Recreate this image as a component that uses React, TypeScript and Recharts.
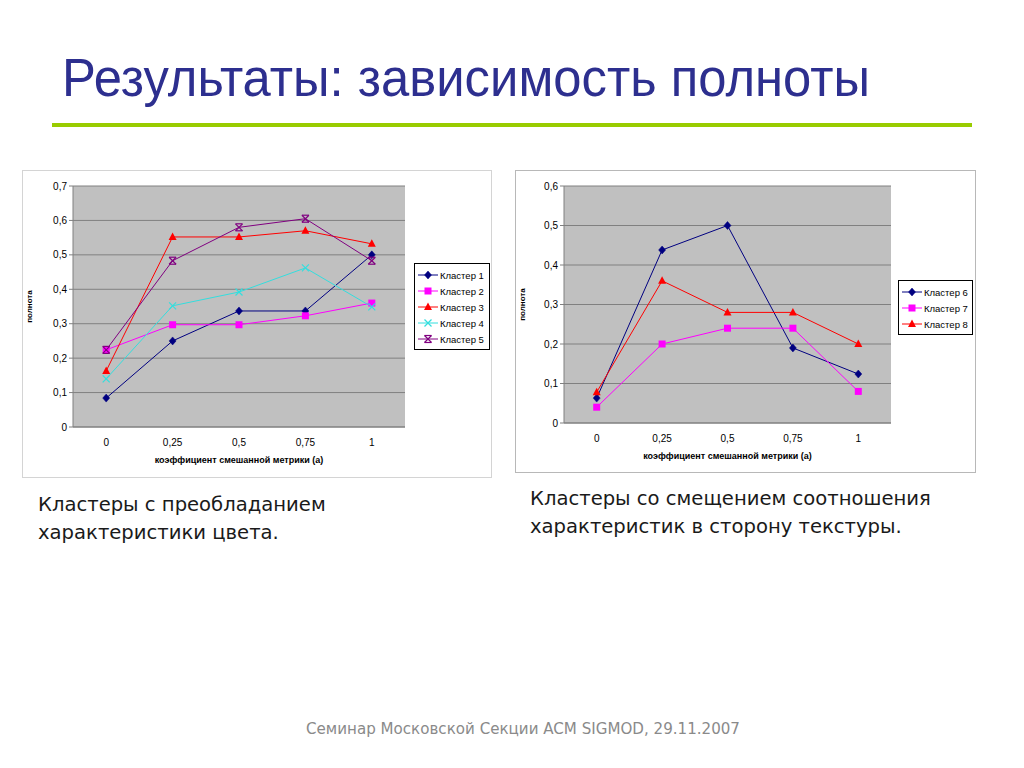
import React from 'react';
import { LineChart, Line, XAxis, YAxis, CartesianGrid, Legend } from 'recharts';

const categories = ['0', '0,25', '0,5', '0,75', '1'];

const cluster1 = [0.084, 0.25, 0.337, 0.337, 0.5];
const cluster2 = [0.224, 0.297, 0.297, 0.323, 0.36];
const cluster3 = [0.163, 0.552, 0.552, 0.57, 0.532];
const cluster4 = [0.14, 0.352, 0.392, 0.462, 0.349];
const cluster5 = [0.224, 0.483, 0.58, 0.605, 0.483];

const cluster6 = [0.063, 0.438, 0.5, 0.19, 0.124];
const cluster7 = [0.04, 0.2, 0.24, 0.24, 0.08];
const cluster8 = [0.078, 0.36, 0.28, 0.28, 0.2];

const leftYTicks = [0, 0.1, 0.2, 0.3, 0.4, 0.5, 0.6, 0.7];
const rightYTicks = [0, 0.1, 0.2, 0.3, 0.4, 0.5, 0.6];

const leftData = categories.map((c, i) => ({
  x: c, k1: cluster1[i], k2: cluster2[i], k3: cluster3[i], k4: cluster4[i], k5: cluster5[i],
}));
const rightData = categories.map((c, i) => ({
  x: c, k6: cluster6[i], k7: cluster7[i], k8: cluster8[i],
}));

type MarkerKind = 'diamond' | 'square' | 'triangle' | 'cross' | 'star';

const markerOf: Record<string, MarkerKind> = {
  k1: 'diamond', k2: 'square', k3: 'triangle', k4: 'cross', k5: 'star',
  k6: 'diamond', k7: 'square', k8: 'triangle',
};

function Marker({ kind, cx, cy, color }: { kind: MarkerKind; cx: number; cy: number; color: string }) {
  if (cx == null || cy == null) return null;
  switch (kind) {
    case 'diamond':
      return <polygon points={`${cx},${cy - 4} ${cx + 3.5},${cy} ${cx},${cy + 4} ${cx - 3.5},${cy}`} fill={color} stroke={color} strokeWidth={0.5} />;
    case 'square':
      return <rect x={cx - 3.5} y={cy - 3.5} width={7} height={7} fill={color} />;
    case 'triangle':
      return <polygon points={`${cx},${cy - 4.5} ${cx + 4},${cy + 3} ${cx - 4},${cy + 3}`} fill={color} />;
    case 'cross':
      return (
        <g stroke={color} strokeWidth={1.2}>
          <line x1={cx - 3.5} y1={cy - 3.5} x2={cx + 3.5} y2={cy + 3.5} />
          <line x1={cx - 3.5} y1={cy + 3.5} x2={cx + 3.5} y2={cy - 3.5} />
        </g>
      );
    case 'star':
      return (
        <g stroke={color} strokeWidth={1.2}>
          <line x1={cx - 3.5} y1={cy - 3.5} x2={cx + 3.5} y2={cy + 3.5} />
          <line x1={cx - 3.5} y1={cy + 3.5} x2={cx + 3.5} y2={cy - 3.5} />
          <line x1={cx - 3.5} y1={cy - 3.5} x2={cx + 3.5} y2={cy - 3.5} />
          <line x1={cx - 3.5} y1={cy + 3.5} x2={cx + 3.5} y2={cy + 3.5} />
        </g>
      );
  }
  return null;
}

const makeDot = (kind: MarkerKind, color: string) => (props: any) => (
  <Marker key={`${kind}-${props.index}`} kind={kind} cx={props.cx} cy={props.cy} color={color} />
);

const fmt = (v: number) => String(v).replace('.', ',');

function LegendBox(props: any) {
  const payload = props.payload || [];
  return (
    <div style={{ border: '1px solid #000', background: '#fff', padding: '3px 2px 2px 3px', width: props.boxWidth, boxSizing: 'border-box' }}>
      {payload.map((p: any) => (
        <div key={p.value} style={{ display: 'flex', alignItems: 'center', height: 16, whiteSpace: 'nowrap', fontFamily: 'Liberation Sans, Arial, sans-serif', fontSize: 9.5, color: '#000' }}>
          <svg width={20} height={12} style={{ marginRight: 2, flexShrink: 0 }}>
            <line x1={0} y1={6} x2={20} y2={6} stroke={p.color} strokeWidth={1} />
            <Marker kind={markerOf[p.dataKey]} cx={10} cy={6} color={p.color} />
          </svg>
          <span>{p.value}</span>
        </div>
      ))}
    </div>
  );
}

const axisLabelFont = { fontFamily: 'Liberation Sans, Arial, sans-serif' };

function YTitle(props: any) {
  const vb = props.viewBox || { x: 0, y: 0, width: 0, height: 0 };
  const x = vb.x + 10;
  const y = vb.y + vb.height / 2;
  return (
    <text x={x} y={y} transform={`rotate(-90, ${x}, ${y})`} textAnchor="middle" fontSize={8} fontWeight="bold" fill="#000" style={axisLabelFont}>
      полнота
    </text>
  );
}

const seriesLeft = [
  { key: 'k1', name: 'Кластер 1', color: '#000080' },
  { key: 'k2', name: 'Кластер 2', color: '#ff00ff' },
  { key: 'k3', name: 'Кластер 3', color: '#ff0000' },
  { key: 'k4', name: 'Кластер 4', color: '#33dede' },
  { key: 'k5', name: 'Кластер 5', color: '#800080' },
];
const seriesRight = [
  { key: 'k6', name: 'Кластер 6', color: '#000080' },
  { key: 'k7', name: 'Кластер 7', color: '#ff00ff' },
  { key: 'k8', name: 'Кластер 8', color: '#ff0000' },
];

function Panel({ data, series, yTicks, yMax, width, height, yAxisWidth, margin, legendPos, legendWidth }: any) {
  return (
    <LineChart width={width} height={height} data={data} margin={margin}>
      <CartesianGrid vertical={false} fill="#c0c0c0" stroke="#808080" strokeWidth={1} />
      <XAxis
        dataKey="x"
        scale="band"
        tickLine={false}
        tickSize={10}
        axisLine={{ stroke: '#808080' }}
        tick={{ fontSize: 10, fill: '#000', ...axisLabelFont }}
        height={38}
        label={{ value: 'коэффициент смешанной метрики (а)', position: 'insideBottom', offset: 2, style: { fontSize: 9, fontWeight: 'bold', fill: '#000', ...axisLabelFont } }}
      />
      <YAxis
        domain={[0, yMax]}
        ticks={yTicks}
        interval={0}
        tickFormatter={fmt}
        width={yAxisWidth}
        tickSize={4}
        tickLine={{ stroke: '#808080' }}
        axisLine={{ stroke: '#808080' }}
        tick={{ fontSize: 10, fill: '#000', ...axisLabelFont }}
        label={<YTitle />}
      />
      <YAxis yAxisId="r" orientation="right" width={0} domain={[0, 1]} tick={false} tickLine={false} axisLine={{ stroke: '#808080' }} />
      <Legend
        layout="vertical"
        align="center"
        verticalAlign="middle"
        wrapperStyle={{ left: legendPos.left, top: legendPos.top, width: legendWidth }}
        content={(p: any) => <LegendBox {...p} boxWidth={legendWidth} />}
      />
      {series.map((s: any) => (
        <Line
          key={s.key}
          type="linear"
          dataKey={s.key}
          name={s.name}
          stroke={s.color}
          strokeWidth={1}
          dot={makeDot(markerOf[s.key], s.color)}
          activeDot={false}
          isAnimationActive={false}
        />
      ))}
    </LineChart>
  );
}

export default function App() {
  return (
    <div style={{ position: 'absolute', left: 0, top: 0, width: 1024, height: 768, background: '#fff', overflow: 'hidden' }}>
      <svg width={1024} height={140} style={{ position: 'absolute', left: 0, top: 0 }}>
        <text x={62} y={96} fontSize={53} fill="#2d2f8f" textLength={808} lengthAdjust="spacingAndGlyphs"
          style={{ fontFamily: '"Liberation Sans Narrow", "Liberation Sans", Arial, sans-serif' }}>
          Результаты: зависимость полноты
        </text>
        <rect x={52} y={123} width={920} height={4} fill="#99cc00" />
      </svg>

      <div style={{ position: 'absolute', left: 22, top: 170, width: 470, height: 308, border: '1px solid #d4d4d4', boxSizing: 'border-box', background: '#fff' }}>
        <div style={{ position: 'absolute', left: -1, top: -1 }}>
          <Panel
            data={leftData}
            series={seriesLeft}
            yTicks={leftYTicks}
            yMax={0.7}
            width={470}
            height={308}
            yAxisWidth={51}
            margin={{ top: 16, right: 87, left: 0, bottom: 13 }}
            legendPos={{ left: 392, top: 93 }}
            legendWidth={76}
          />
        </div>
      </div>

      <div style={{ position: 'absolute', left: 515, top: 170, width: 461, height: 303, border: '1px solid #b8b8b8', boxSizing: 'border-box', background: '#fff' }}>
        <div style={{ position: 'absolute', left: -1, top: -1 }}>
          <Panel
            data={rightData}
            series={seriesRight}
            yTicks={rightYTicks}
            yMax={0.6}
            width={461}
            height={303}
            yAxisWidth={49}
            margin={{ top: 16, right: 85, left: 0, bottom: 12 }}
            legendPos={{ left: 383, top: 110 }}
            legendWidth={75}
          />
        </div>
      </div>

      <div style={{ position: 'absolute', left: 38, top: 491, fontFamily: '"DejaVu Sans", Verdana, sans-serif', fontSize: 19.6, lineHeight: '28px', color: '#1a1a1a' }}>
        Кластеры с преобладанием<br />характеристики цвета.
      </div>
      <div style={{ position: 'absolute', left: 530, top: 485, fontFamily: '"DejaVu Sans", Verdana, sans-serif', fontSize: 19.6, lineHeight: '28px', color: '#1a1a1a' }}>
        Кластеры со смещением соотношения<br />характеристик в сторону текстуры.
      </div>

      <div style={{ position: 'absolute', left: 0, width: 1046, top: 720, textAlign: 'center', fontFamily: '"DejaVu Sans", Verdana, sans-serif', fontSize: 15.1, color: '#8a8a8a' }}>
        Семинар Московской Секции ACM SIGMOD, 29.11.2007
      </div>
    </div>
  );
}
